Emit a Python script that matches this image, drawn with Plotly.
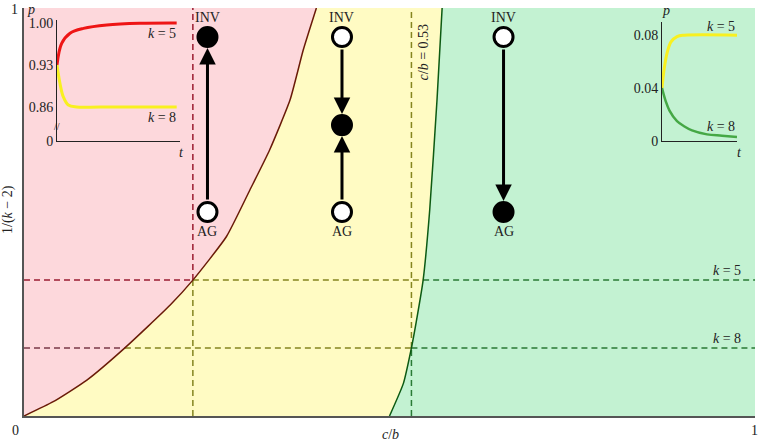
import plotly.graph_objects as go

# boundary between red (INV dominant) and yellow (coexistence) regions
left_x = [0.0, 0.040, 0.086, 0.138, 0.200, 0.231, 0.277, 0.309, 0.336, 0.364, 0.382, 0.400]
left_y = [0.0, 0.035, 0.088, 0.167, 0.272, 0.333, 0.440, 0.554, 0.652, 0.775, 0.897, 1.0]
# boundary between yellow and green (AG dominant) regions
right_x = [0.500, 0.519, 0.530, 0.537, 0.546, 0.555, 0.565, 0.572]
right_y = [0.0, 0.080, 0.167, 0.235, 0.333, 0.505, 0.775, 1.0]

k5 = 1 / 3
k8 = 1 / 6
cb_red = 0.231     # left boundary at k=5
cb_k8_left = 0.138 # left boundary at k=8
cb_green = 0.53    # right boundary at k=8
cb_k5_right = 0.546

# phase arrows: column x, node heights
col_x = [0.251, 0.435, 0.656]
inv_y = 0.929
ag_y = 0.5
mid_y = 0.713

# left inset: p(t)
l_t5 = [0, 0.38, 1.06, 2.15, 4.05, 6.75, 9.73]
l_p5 = [0.93, 0.966, 0.983, 0.991, 0.9967, 0.9995, 1.0]
l_t8 = [0, 0.24, 0.51, 0.92, 1.6, 3.5, 9.73]
l_p8 = [0.93, 0.8995, 0.877, 0.8633, 0.86, 0.86, 0.86]
# right inset
r_t5 = [0, 0.3, 0.7, 1.2, 2.0, 3.0, 10]
r_p5 = [0.04, 0.055, 0.067, 0.075, 0.079, 0.080, 0.080]
r_t8 = [0, 0.5, 1, 2, 3, 4, 6, 8, 10]
r_p8 = [0.04, 0.030, 0.023, 0.015, 0.011, 0.008, 0.005, 0.004, 0.003]

FONT = "Liberation Serif"
W, H = 759, 447
ML, MR, MT, MB = 24, 4, 8, 31


def px(x):
    return (x - ML) / (W - ML - MR)


def py(y):
    return (H - MB - y) / (H - MT - MB)


fig = go.Figure()

# regions
fig.add_trace(go.Scatter(x=left_x + [0], y=left_y + [1], fill="toself", fillcolor="#fdd8dc",
                         line=dict(width=0), mode="lines", hoverinfo="skip"))
fig.add_trace(go.Scatter(x=left_x + right_x[::-1], y=left_y + right_y[::-1], fill="toself",
                         fillcolor="#fffbc3", line=dict(width=0), mode="lines", hoverinfo="skip"))
fig.add_trace(go.Scatter(x=right_x + [1, 1], y=right_y + [1, 0], fill="toself", fillcolor="#c3f2d2",
                         line=dict(width=0), mode="lines", hoverinfo="skip"))

RED = "#9b1b30"
OLIVE = "#858520"
GREEN = "#2a7a35"
BROWN = "#7a3a48"


def seg(x0, x1, y0, y1, color):
    fig.add_trace(go.Scatter(x=[x0, x1], y=[y0, y1], mode="lines",
                             line=dict(color=color, width=1.5, dash="6px,4px"), hoverinfo="skip"))


seg(0, cb_red, k5, k5, RED)
seg(cb_red, cb_k5_right, k5, k5, OLIVE)
seg(cb_k5_right, 1, k5, k5, GREEN)
seg(0, cb_k8_left, k8, k8, BROWN)
seg(cb_k8_left, cb_green, k8, k8, OLIVE)
seg(cb_green, 1, k8, k8, GREEN)
seg(cb_red, cb_red, k5, 1, RED)
seg(cb_red, cb_red, 0, k5, OLIVE)
seg(cb_green, cb_green, k8, 1, OLIVE)
seg(cb_green, cb_green, 0, k8, GREEN)

# boundary curves
fig.add_trace(go.Scatter(x=left_x, y=left_y, mode="lines",
                         line=dict(color="#6a1a08", width=1.5, shape="spline", smoothing=0.5),
                         hoverinfo="skip"))
fig.add_trace(go.Scatter(x=right_x, y=right_y, mode="lines",
                         line=dict(color="#0d5a12", width=1.5, shape="spline", smoothing=0.5),
                         hoverinfo="skip"))

# nodes
node_x = [col_x[0], col_x[0], col_x[1], col_x[1], col_x[1], col_x[2], col_x[2]]
node_y = [inv_y, ag_y, inv_y, mid_y, ag_y, inv_y, ag_y]
node_c = ["black", "white", "white", "black", "white", "white", "black"]
fig.add_trace(go.Scatter(x=node_x, y=node_y, mode="markers",
                         marker=dict(size=19, color=node_c, line=dict(color="black", width=3)),
                         hoverinfo="skip"))

# insets
fig.add_trace(go.Scatter(x=l_t5, y=l_p5, xaxis="x2", yaxis="y2", mode="lines",
                         line=dict(color="#ee1515", width=3, shape="spline"), hoverinfo="skip"))
fig.add_trace(go.Scatter(x=l_t8, y=l_p8, xaxis="x2", yaxis="y2", mode="lines",
                         line=dict(color="#f8f020", width=3, shape="spline"), hoverinfo="skip"))
fig.add_trace(go.Scatter(x=r_t5, y=r_p5, xaxis="x3", yaxis="y3", mode="lines",
                         line=dict(color="#f8f020", width=3, shape="spline"), hoverinfo="skip"))
fig.add_trace(go.Scatter(x=r_t8, y=r_p8, xaxis="x3", yaxis="y3", mode="lines",
                         line=dict(color="#45a845", width=2.5, shape="spline"), hoverinfo="skip"))

ann = []
# arrows (tail -> head)
arrows = [
    (col_x[0], ag_y, col_x[0], inv_y),
    (col_x[1], inv_y, col_x[1], mid_y),
    (col_x[1], ag_y, col_x[1], mid_y),
    (col_x[2], inv_y, col_x[2], ag_y),
]
for x0, y0, x1, y1 in arrows:
    ann.append(dict(x=x1, y=y1, ax=x0, ay=y0, xref="x", yref="y", axref="x", ayref="y",
                    showarrow=True, arrowhead=2, arrowsize=1.1, arrowwidth=3, arrowcolor="black",
                    standoff=11, startstandoff=11, text=""))
tf = dict(size=14, family=FONT, color="#222")
for cx in col_x:
    ann.append(dict(x=cx, y=inv_y, xref="x", yref="y", text="INV", showarrow=False, yshift=19,
                    xanchor="center", yanchor="middle", font=tf))
    ann.append(dict(x=cx, y=ag_y, xref="x", yref="y", text="AG", showarrow=False, yshift=-19,
                    xanchor="center", yanchor="middle", font=tf))


def label(xp, yp, text, xanchor="center", angle=0, size=14):
    ann.append(dict(x=px(xp), y=py(yp), xref="paper", yref="paper", text=text, showarrow=False,
                    xanchor=xanchor, yanchor="middle", textangle=angle,
                    font=dict(size=size, family=FONT, color="#222")))


ann.append(dict(x=cb_green, y=py(52), xref="x", yref="paper", xshift=13, text="<i>c</i>/<i>b</i> = 0.53",
                textangle=-90, showarrow=False, xanchor="center", yanchor="middle", font=tf))
ann.append(dict(x=px(743), y=k5, xref="paper", yref="y", xanchor="right", yanchor="middle", yshift=10,
                text="<i>k</i> = 5", showarrow=False, font=tf))
ann.append(dict(x=px(743), y=k8, xref="paper", yref="y", xanchor="right", yanchor="middle", yshift=10,
                text="<i>k</i> = 8", showarrow=False, font=tf))

# main axis labels
label(15, 430, "0")
label(754, 430, "1")
label(14, 10, "1")
label(390, 434, "<i>c</i>/<i>b</i>")
label(8, 210, "1/(<i>k</i> − 2)", angle=-90)
# left inset labels
label(178, 33, "<i>k</i> = 5", xanchor="right")
label(178, 117, "<i>k</i> = 8", xanchor="right")
label(31, 10, "<i>p</i>")
label(181, 153, "<i>t</i>")
label(57, 127, "//", size=10)
# right inset labels
label(737, 27, "<i>k</i> = 5", xanchor="right")
label(737, 127, "<i>k</i> = 8", xanchor="right")
label(666, 11, "<i>p</i>")
label(739, 153, "<i>t</i>")

fig.update_layout(
    width=W, height=H,
    margin=dict(l=ML, r=MR, t=MT, b=MB, autoexpand=False),
    paper_bgcolor="white", plot_bgcolor="rgba(0,0,0,0)",
    showlegend=False,
    font=dict(family=FONT, size=14, color="#222"),
    xaxis=dict(range=[0, 1], showticklabels=False, showgrid=False, zeroline=False, automargin=False,
               showline=True, linecolor="#555", linewidth=1.5, ticks=""),
    yaxis=dict(range=[0, 1], showticklabels=False, showgrid=False, zeroline=False, automargin=False,
               showline=True, linecolor="#555", linewidth=1.5, ticks=""),
    xaxis2=dict(domain=[px(57), px(180)], range=[0, 10], anchor="y2", showgrid=False, zeroline=False,
                automargin=False, showline=True, linecolor="#222", linewidth=1,
                showticklabels=False, ticks=""),
    yaxis2=dict(domain=[py(141), py(20)], range=[0.8033, 1.005], anchor="x2", showgrid=False,
                automargin=False, zeroline=False, showline=True, linecolor="#222", linewidth=1,
                ticks="", tickvals=[0.8033, 0.86, 0.93, 1.00], ticktext=["0", "0.86", "0.93", "1.00"],
                tickfont=tf),
    xaxis3=dict(domain=[px(662), px(737)], range=[0, 10], anchor="y3", showgrid=False, zeroline=False,
                automargin=False, showline=True, linecolor="#222", linewidth=1,
                showticklabels=False, ticks=""),
    yaxis3=dict(domain=[py(141), py(22)], range=[0, 0.09], anchor="x3", showgrid=False,
                automargin=False, zeroline=False, showline=True, linecolor="#222", linewidth=1,
                ticks="", tickvals=[0, 0.04, 0.08], ticktext=["0", "0.04", "0.08"], tickfont=tf),
    annotations=ann,
)

fig.write_html("out.html", config={"displayModeBar": False},
               post_script="document.body.style.margin='0px';")
